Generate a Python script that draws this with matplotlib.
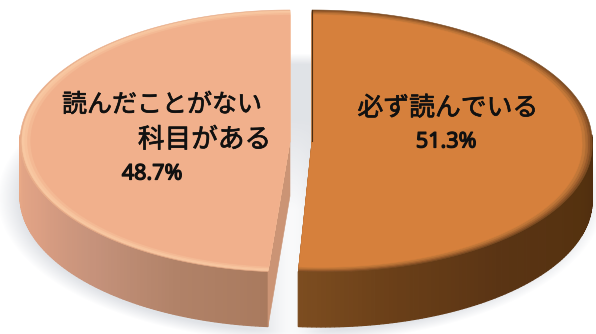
import numpy as np
import matplotlib
matplotlib.use("Agg")
import matplotlib.pyplot as plt
import matplotlib.patheffects as pe
from matplotlib.patches import Polygon

plt.rcParams['font.family'] = ['Noto Sans CJK JP', 'DejaVu Sans']

labels = ["必ず読んでいる", "読んだことがない\n科目がある"]
shares = [51.3, 48.7]

W, H = 596, 334
fig = plt.figure(figsize=(W / 100, H / 100), dpi=100)
ax = fig.add_axes([0, 0, 1, 1])

RY = 131.0
CY = 141.0
DEPTH = 55.0


def hexrgb(c):
    return np.array(matplotlib.colors.to_rgb(c))


def ramp(stops, t):
    xs = [s[0] for s in stops]
    cols = np.array([hexrgb(s[1]) for s in stops])
    return tuple(np.interp(t, xs, cols[:, i]) for i in range(3))


def rim(theta, cx, rx, scale=1.0, shear=0.0, dy=0.0):
    """Point on the elliptical rim; theta runs clockwise from twelve o'clock."""
    y = CY - RY * scale * np.cos(theta)
    x = cx + rx * scale * np.sin(theta) + shear * np.maximum(y - CY, 0)
    return x, y + dy


def face(t0, t1, cx, rx, shear, bands):
    """Top surface, drawn as nested sectors so the rim can carry a bevel."""
    th = np.linspace(t0, t1, 240)
    for scale, colour in bands:
        x, y = rim(th, cx, rx, scale, shear)
        pts = np.column_stack([np.r_[cx, x], np.r_[CY, y]])
        ax.add_patch(Polygon(pts, closed=True, fc=colour, ec=colour, lw=0.4, zorder=5))


def wall(t0, t1, cx, rx, shear, stops):
    """Outer wall, one narrow quad per step, shaded along the rim."""
    th = np.linspace(t0, t1, 200)
    for a, b in zip(th[:-1], th[1:]):
        if np.cos((a + b) / 2) > 0.05:
            continue
        xa, ya = rim(a, cx, rx, 1, shear)
        xb, yb = rim(b, cx, rx, 1, shear)
        pts = [(xa, ya), (xb, yb), (xb, yb + DEPTH), (xa, ya + DEPTH)]
        c = ramp(stops, np.degrees((a + b) / 2))
        ax.add_patch(Polygon(pts, closed=True, fc=c, ec=c, lw=0.9, zorder=3))


# Soft cast shadow underneath the pie, fading out in the lower part of the gap
yy, xx = np.mgrid[0:H, 0:W] + 0.5
dist = np.sqrt(((xx - 301) / 284) ** 2 + ((yy - 198) / 135) ** 2)
alpha = np.clip((1.07 - dist) / 0.08, 0, 1) * 0.19
alpha *= 1 - 0.8 * np.clip((yy - 120) / 90, 0, 1) * np.exp(-((xx - 292) / 24) ** 2)
shadow = np.zeros((H, W, 4))
shadow[..., :3] = hexrgb("#5f6b80")
shadow[..., 3] = alpha
ax.imshow(shadow, extent=(0, W, H, 0), zorder=1, interpolation="bilinear")

ax.set_xlim(0, W)
ax.set_ylim(H, 0)
ax.set_aspect("auto")
ax.axis("off")

total = sum(shares)
sweep_right = np.radians(360 * shares[0] / total)

# Orange sector, on the right
cx_r, rx_r, shear_r = 312.0, 280.0, 0.07
wall(0, sweep_right, cx_r, rx_r, shear_r,
     [(90, "#4e2c10"), (110, "#55320f"), (140, "#5a3414"), (165, "#6a3f18"), (185, "#7d4d20")])
r_colour = "#D6803C"
face(0, sweep_right, cx_r, rx_r, shear_r,
     [(1.0, "#7d4c22"), (0.992, "#96592a"), (0.984, "#ad6a32"), (0.975, "#c27738"), (0.964, r_colour)])
ax.plot([cx_r, cx_r], [CY - RY, CY], color="#4a2c10", lw=0.8, zorder=6)

# Peach sector, on the left
cx_l, rx_l, shear_l = 290.0, 270.0, 0.0
wall(sweep_right, 2 * np.pi, cx_l, rx_l, shear_l,
     [(185, "#A97A5E"), (205, "#B18268"), (225, "#C4917A"), (250, "#DDA084"), (272, "#E8A987")])
bx, by = rim(sweep_right, cx_l, rx_l)
cut = [(cx_l, CY), (bx, by), (bx, by + DEPTH), (cx_l, CY + DEPTH)]
ax.add_patch(Polygon(cut, closed=True, fc="#CB9475", ec="#CB9475", lw=0.4, zorder=4))
l_colour = "#F1B08C"
face(sweep_right, 2 * np.pi, cx_l, rx_l, shear_l,
     [(1.0, "#E9AE8A"), (0.993, "#F8C8A2"), (0.982, "#F7C39D"), (0.972, "#F4B994"), (0.96, l_colour)])

# Labels
halo = [pe.withStroke(linewidth=0.5, foreground="#111111")]
txt = dict(color="#111111", zorder=10, path_effects=halo)
pct = dict(fontsize=15.5, ha="center", va="center", color="#111111", zorder=10,
           family=['Noto Sans', 'DejaVu Sans'],
           path_effects=[pe.withStroke(linewidth=0.9, foreground="#111111")])
first, second = labels[1].split("\n")
ax.text(162, 105, first, fontsize=18, ha="center", va="center", **txt)
ax.text(271, 140, second, fontsize=19.2, ha="right", va="center", **txt)
ax.text(152, 174, f"{shares[1]:.1f}%", **pct)
ax.text(448, 108, labels[0], fontsize=18.6, ha="center", va="center", **txt)
ax.text(446, 142, f"{shares[0]:.1f}%", **pct)

fig.savefig("out.png", dpi=100, facecolor="white")
